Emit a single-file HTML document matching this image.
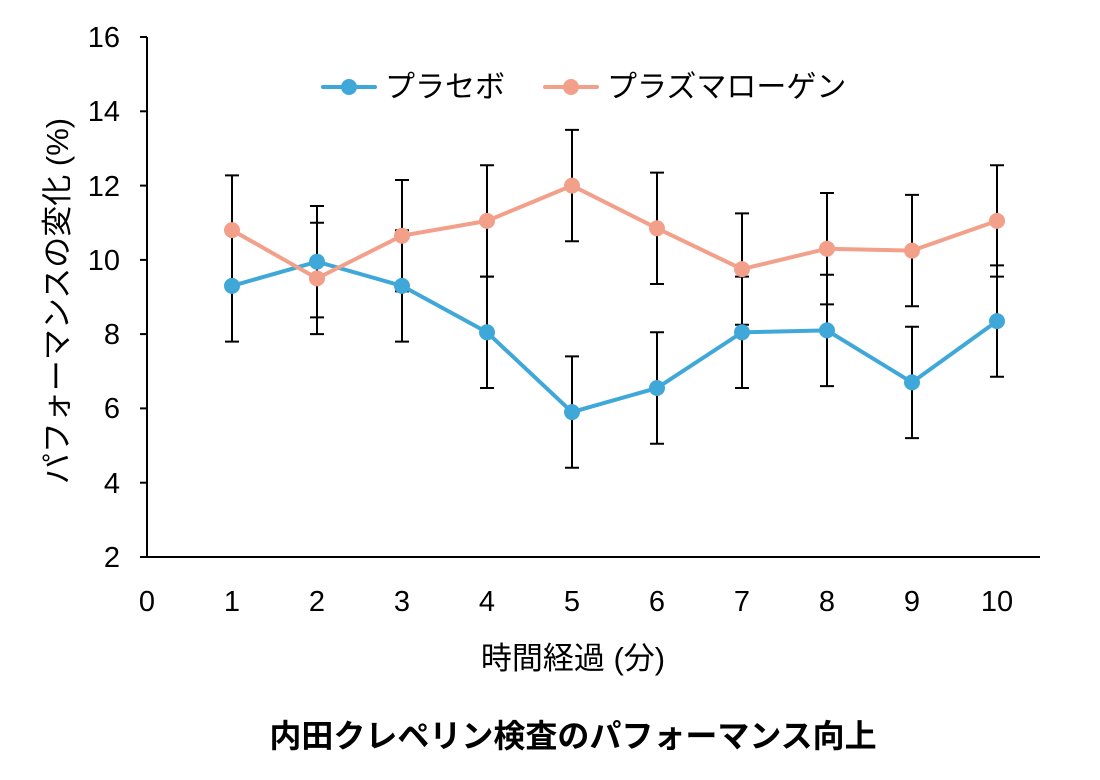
<!DOCTYPE html>
<html><head><meta charset="utf-8"><style>
html,body{margin:0;padding:0;background:#fff;width:1100px;height:780px;overflow:hidden}
text{font-family:"Liberation Sans","Noto Sans CJK JP",sans-serif;fill:#000}
</style></head><body>
<svg width="1100" height="780" viewBox="0 0 1100 780">
<g stroke="#000" stroke-width="2" fill="none">
<line x1="147" y1="37" x2="147" y2="557"/>
<line x1="147" y1="557" x2="1040" y2="557"/>
<line x1="140" y1="37" x2="147" y2="37"/>
<line x1="140" y1="111.3" x2="147" y2="111.3"/>
<line x1="140" y1="185.6" x2="147" y2="185.6"/>
<line x1="140" y1="259.9" x2="147" y2="259.9"/>
<line x1="140" y1="334.1" x2="147" y2="334.1"/>
<line x1="140" y1="408.4" x2="147" y2="408.4"/>
<line x1="140" y1="482.7" x2="147" y2="482.7"/>
<line x1="140" y1="557" x2="147" y2="557"/>
</g>
<g font-size="29" text-anchor="end">
<text x="120" y="47">16</text><text x="120" y="121">14</text><text x="120" y="196">12</text><text x="120" y="270">10</text><text x="120" y="344">8</text><text x="120" y="418">6</text><text x="120" y="493">4</text><text x="120" y="567">2</text>
</g>
<g font-size="29" text-anchor="middle">
<text x="147" y="611">0</text><text x="232" y="611">1</text><text x="317" y="611">2</text><text x="402" y="611">3</text><text x="487" y="611">4</text><text x="572" y="611">5</text><text x="657" y="611">6</text><text x="742" y="611">7</text><text x="827" y="611">8</text><text x="912" y="611">9</text><text x="997" y="611">10</text>
</g>
<text x="573" y="669" font-size="31" text-anchor="middle">時間経過 (分)</text>
<text transform="translate(68,301) rotate(-90)" font-size="31" text-anchor="middle">パフォーマンスの変化 (%)</text>
<text x="573" y="747" font-size="32" font-weight="bold" text-anchor="middle">内田クレペリン検査のパフォーマンス向上</text>
<g stroke="#000" stroke-width="2">
<path d="M232 230.2V341.6M225 230.2H239M225 341.6H239
M317 206V317.4M310 206H324M310 317.4H324
M402 230.2V341.6M395 230.2H409M395 341.6H409
M487 276.6V388M480 276.6H494M480 388H494
M572 356.4V467.8M565 356.4H579M565 467.8H579
M657 332.3V443.7M650 332.3H664M650 443.7H664
M742 276.6V388M735 276.6H749M735 388H749
M827 274.7V386.1M820 274.7H834M820 386.1H834
M912 326.7V438.1M905 326.7H919M905 438.1H919
M997 265.4V376.8M990 265.4H1004M990 376.8H1004"/>
<path d="M232 175.4V285.8M225 175.4H239M225 285.8H239
M317 222.7V334.1M310 222.7H324M310 334.1H324
M402 180V291.4M395 180H409M395 291.4H409
M487 165.2V276.6M480 165.2H494M480 276.6H494
M572 129.9V241.3M565 129.9H579M565 241.3H579
M657 172.6V284M650 172.6H664M650 284H664
M742 213.4V324.8M735 213.4H749M735 324.8H749
M827 193V304.4M820 193H834M820 304.4H834
M912 194.9V306.3M905 194.9H919M905 306.3H919
M997 165.2V276.6M990 165.2H1004M990 276.6H1004"/>
</g>
<polyline fill="none" stroke="#40a8d8" stroke-width="4" points="232,285.9 317,261.7 402,285.9 487,332.3 572,412.1 657,388 742,332.3 827,330.4 912,382.4 997,321.1"/>
<g fill="#40a8d8">
<circle cx="232" cy="285.9" r="8"/><circle cx="317" cy="261.7" r="8"/><circle cx="402" cy="285.9" r="8"/><circle cx="487" cy="332.3" r="8"/><circle cx="572" cy="412.1" r="8"/><circle cx="657" cy="388" r="8"/><circle cx="742" cy="332.3" r="8"/><circle cx="827" cy="330.4" r="8"/><circle cx="912" cy="382.4" r="8"/><circle cx="997" cy="321.1" r="8"/>
</g>
<polyline fill="none" stroke="#f2a08a" stroke-width="4" points="232,230.1 317,278.4 402,235.7 487,220.9 572,185.6 657,228.3 742,269.1 827,248.7 912,250.6 997,220.9"/>
<g fill="#f2a08a">
<circle cx="232" cy="230.1" r="8"/><circle cx="317" cy="278.4" r="8"/><circle cx="402" cy="235.7" r="8"/><circle cx="487" cy="220.9" r="8"/><circle cx="572" cy="185.6" r="8"/><circle cx="657" cy="228.3" r="8"/><circle cx="742" cy="269.1" r="8"/><circle cx="827" cy="248.7" r="8"/><circle cx="912" cy="250.6" r="8"/><circle cx="997" cy="220.9" r="8"/>
</g>
<line x1="323" y1="87" x2="375" y2="87" stroke="#40a8d8" stroke-width="4" stroke-linecap="round"/>
<circle cx="349" cy="87" r="8" fill="#40a8d8"/>
<text x="385" y="97" font-size="30">プラセボ</text>
<line x1="545" y1="87" x2="597" y2="87" stroke="#f2a08a" stroke-width="4" stroke-linecap="round"/>
<circle cx="571" cy="87" r="8" fill="#f2a08a"/>
<text x="607" y="97" font-size="30">プラズマローゲン</text>
</svg>
</body></html>
